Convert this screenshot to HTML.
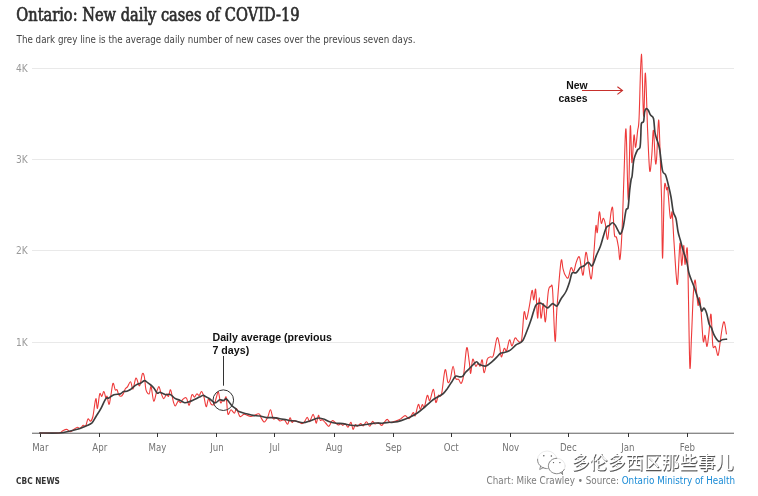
<!DOCTYPE html>
<html><head><meta charset="utf-8"><style>
html,body{margin:0;padding:0;background:#fff;}
body{width:758px;height:496px;position:relative;overflow:hidden;}
svg text{font-family:"Liberation Sans",sans-serif;}
.t{font-family:"DejaVu Serif","Liberation Serif",serif !important;font-stretch:condensed;font-size:17.8px;fill:#2e2e2e;stroke:#2e2e2e;stroke-width:0.65px;}
.s{font-family:"DejaVu Sans",sans-serif !important;font-stretch:condensed;font-size:10.15px;fill:#444;}
.yl{font-family:"DejaVu Sans",sans-serif !important;font-stretch:condensed;font-size:10.1px;fill:#9a9a9a;}
.xl{font-family:"DejaVu Sans",sans-serif !important;font-stretch:condensed;font-size:9.6px;fill:#747474;}
.ann{font-size:10.4px;font-weight:bold;fill:#111;}
.cbc{font-family:"DejaVu Sans",sans-serif !important;font-stretch:condensed;font-size:9.4px;font-weight:bold;fill:#333;}
.src{font-family:"DejaVu Sans",sans-serif !important;font-stretch:condensed;font-size:9.6px;fill:#7c7c7c;}
.wm{font-family:"Liberation Sans","Noto Sans CJK SC",sans-serif !important;font-size:17.7px;letter-spacing:0.3px;fill:#fff;stroke:none;}
</style></head><body>
<svg width="758" height="496" viewBox="0 0 758 496" style="position:absolute;left:0;top:0;will-change:transform">
<text transform="translate(16.3,20.8) scale(0.912,1)" class="t">Ontario: New daily cases of COVID-19</text>
<text transform="translate(16.6,43) scale(0.957,1)" class="s">The dark grey line is the average daily number of new cases over the previous seven days.</text>
<line x1="32" y1="68.5" x2="734" y2="68.5" stroke="#e9e9e9" stroke-width="1"/>
<text x="27.8" y="72.0" text-anchor="end" class="yl">4K</text>
<line x1="32" y1="159.5" x2="734" y2="159.5" stroke="#e9e9e9" stroke-width="1"/>
<text x="27.8" y="163.0" text-anchor="end" class="yl">3K</text>
<line x1="32" y1="250.5" x2="734" y2="250.5" stroke="#e9e9e9" stroke-width="1"/>
<text x="27.8" y="254.0" text-anchor="end" class="yl">2K</text>
<line x1="32" y1="342.5" x2="734" y2="342.5" stroke="#e9e9e9" stroke-width="1"/>
<text x="27.8" y="346.0" text-anchor="end" class="yl">1K</text>
<line x1="32" y1="432.5" x2="734" y2="432.5" stroke="#d2d2d2" stroke-width="1"/>
<line x1="32" y1="433.5" x2="734" y2="433.5" stroke="#8a8a8a" stroke-width="1"/>
<line x1="40.5" y1="433" x2="40.5" y2="437" stroke="#333" stroke-width="1"/>
<text x="40.3" y="450.8" text-anchor="middle" class="xl">Mar</text>
<line x1="99.5" y1="433" x2="99.5" y2="437" stroke="#333" stroke-width="1"/>
<text x="99.8" y="450.8" text-anchor="middle" class="xl">Apr</text>
<line x1="157.5" y1="433" x2="157.5" y2="437" stroke="#333" stroke-width="1"/>
<text x="157.4" y="450.8" text-anchor="middle" class="xl">May</text>
<line x1="216.5" y1="433" x2="216.5" y2="437" stroke="#333" stroke-width="1"/>
<text x="217.0" y="450.8" text-anchor="middle" class="xl">Jun</text>
<line x1="274.5" y1="433" x2="274.5" y2="437" stroke="#333" stroke-width="1"/>
<text x="274.6" y="450.8" text-anchor="middle" class="xl">Jul</text>
<line x1="334.5" y1="433" x2="334.5" y2="437" stroke="#333" stroke-width="1"/>
<text x="334.1" y="450.8" text-anchor="middle" class="xl">Aug</text>
<line x1="393.5" y1="433" x2="393.5" y2="437" stroke="#333" stroke-width="1"/>
<text x="393.6" y="450.8" text-anchor="middle" class="xl">Sep</text>
<line x1="451.5" y1="433" x2="451.5" y2="437" stroke="#333" stroke-width="1"/>
<text x="451.2" y="450.8" text-anchor="middle" class="xl">Oct</text>
<line x1="510.5" y1="433" x2="510.5" y2="437" stroke="#333" stroke-width="1"/>
<text x="510.7" y="450.8" text-anchor="middle" class="xl">Nov</text>
<line x1="568.5" y1="433" x2="568.5" y2="437" stroke="#333" stroke-width="1"/>
<text x="568.3" y="450.8" text-anchor="middle" class="xl">Dec</text>
<line x1="628.5" y1="433" x2="628.5" y2="437" stroke="#333" stroke-width="1"/>
<text x="627.9" y="450.8" text-anchor="middle" class="xl">Jan</text>
<line x1="687.5" y1="433" x2="687.5" y2="437" stroke="#333" stroke-width="1"/>
<text x="687.4" y="450.8" text-anchor="middle" class="xl">Feb</text>
<path d="M39.7,433.0 C42.9,433.0 55.2,433.4 59.0,433.0 C62.8,432.6 61.0,431.5 62.3,430.9 C63.6,430.3 65.7,429.2 67.0,429.4 C68.3,429.5 68.7,432.1 70.3,431.8 C71.9,431.5 75.2,427.9 76.8,427.4 C78.4,426.8 78.9,428.9 80.0,428.5 C81.1,428.1 82.3,425.7 83.2,425.3 C84.1,424.9 84.8,427.2 85.6,426.1 C86.4,425.0 87.2,419.7 88.0,418.9 C88.8,418.1 89.7,421.7 90.5,421.3 C91.3,420.9 92.0,420.3 92.9,416.5 C93.8,412.7 95.0,400.1 95.8,398.7 C96.5,397.3 96.8,409.2 97.4,408.4 C98.1,407.6 99.0,395.9 99.7,393.9 C100.4,391.9 101.1,396.7 101.8,396.3 C102.5,395.9 103.2,391.2 103.9,391.5 C104.6,391.8 105.3,397.1 105.8,397.9 C106.3,398.7 106.6,395.2 107.1,396.3 C107.6,397.4 108.4,404.3 109.0,404.4 C109.6,404.5 109.9,400.6 110.6,397.1 C111.3,393.6 112.2,384.6 113.0,383.4 C113.8,382.2 114.5,388.7 115.2,389.8 C115.9,390.9 116.5,389.0 117.1,389.8 C117.7,390.6 118.0,393.6 118.7,394.7 C119.4,395.8 120.3,396.4 121.1,396.3 C121.8,396.2 122.5,395.1 123.2,393.9 C123.9,392.7 124.5,390.2 125.2,389.0 C125.9,387.8 126.7,387.8 127.6,386.6 C128.5,385.4 129.7,381.4 130.6,381.8 C131.5,382.2 132.1,389.6 133.0,389.0 C133.9,388.4 134.9,378.5 136.0,378.0 C137.1,377.5 138.4,386.5 139.5,385.8 C140.6,385.1 141.6,375.2 142.4,373.7 C143.2,372.2 143.8,374.3 144.4,377.0 C145.0,379.7 145.2,387.0 146.0,389.8 C146.8,392.6 148.3,394.4 149.2,393.9 C150.0,393.4 150.3,385.4 151.1,386.6 C151.8,387.8 152.8,400.2 153.7,401.1 C154.6,402.1 155.6,394.7 156.5,392.3 C157.4,389.9 158.2,386.6 158.9,386.6 C159.6,386.6 160.0,390.3 160.8,392.3 C161.6,394.3 162.7,398.4 163.7,398.7 C164.7,399.0 165.8,394.3 166.6,393.9 C167.4,393.5 167.8,397.0 168.5,396.3 C169.2,395.6 169.8,388.9 170.6,389.8 C171.4,390.7 172.6,399.2 173.4,401.9 C174.2,404.6 174.5,406.1 175.3,406.0 C176.1,405.9 177.3,401.7 178.2,401.1 C179.1,400.6 179.8,403.0 180.6,402.7 C181.3,402.4 181.8,400.3 182.7,399.5 C183.6,398.7 185.2,396.9 186.3,397.9 C187.4,398.8 188.3,405.7 189.2,405.2 C190.1,404.7 191.0,396.0 191.9,394.7 C192.8,393.4 193.6,397.2 194.4,397.1 C195.2,397.0 196.0,394.2 196.8,393.9 C197.6,393.6 198.4,395.9 199.2,395.5 C200.0,395.1 200.8,391.2 201.6,391.5 C202.4,391.8 203.2,394.6 204.0,397.1 C204.8,399.7 205.4,406.5 206.2,406.8 C206.9,407.1 207.7,399.5 208.5,399.0 C209.3,398.5 210.1,403.1 211.0,404.0 C211.9,404.9 213.3,405.5 214.2,404.5 C215.1,403.5 215.5,400.1 216.2,398.0 C216.9,395.9 217.7,391.2 218.4,392.0 C219.1,392.8 219.8,401.2 220.5,402.6 C221.2,404.0 221.9,400.8 222.5,400.5 C223.1,400.2 223.7,401.5 224.3,401.0 C224.9,400.5 225.6,395.1 226.2,397.3 C226.8,399.5 227.1,411.9 227.9,414.0 C228.7,416.1 229.9,409.9 231.0,409.8 C232.1,409.7 233.5,413.3 234.4,413.1 C235.3,412.9 235.7,408.1 236.6,408.7 C237.5,409.3 238.7,415.6 240.0,416.5 C241.3,417.4 242.5,414.3 244.3,414.3 C246.1,414.3 248.6,416.6 251.0,416.5 C253.4,416.4 257.1,413.6 258.8,413.8 C260.5,414.0 260.1,416.2 261.0,417.6 C261.9,419.0 263.2,422.0 264.3,422.0 C265.4,422.0 266.6,419.6 267.6,417.6 C268.6,415.6 269.6,409.6 270.5,409.8 C271.4,410.0 272.2,417.4 273.2,418.7 C274.2,420.0 275.4,417.2 276.5,417.6 C277.6,418.0 278.5,420.5 279.8,420.9 C281.1,421.3 283.0,419.2 284.3,419.8 C285.6,420.4 286.7,424.6 287.6,424.2 C288.6,423.8 289.3,418.0 290.0,417.7 C290.7,417.4 291.3,421.8 292.0,422.3 C292.7,422.8 293.0,420.7 294.0,420.6 C295.0,420.5 296.6,421.2 297.9,421.7 C299.2,422.2 300.8,423.6 301.9,423.6 C303.0,423.6 303.6,422.7 304.5,421.7 C305.4,420.7 306.4,417.4 307.2,417.4 C308.0,417.4 308.9,421.5 309.5,421.7 C310.1,421.9 310.5,419.6 311.1,418.4 C311.7,417.2 312.5,414.4 313.1,414.4 C313.7,414.4 314.2,417.0 314.8,418.4 C315.4,419.8 315.8,423.5 316.4,423.0 C317.0,422.5 317.8,415.8 318.4,415.3 C319.0,414.9 319.6,419.6 320.3,420.3 C321.0,421.0 321.4,419.2 322.3,419.7 C323.2,420.1 324.5,421.9 325.6,423.0 C326.7,424.1 327.8,426.7 328.9,426.3 C330.0,425.9 331.2,421.3 332.2,420.6 C333.2,419.9 333.9,421.6 334.9,422.3 C335.9,423.0 337.2,424.8 338.2,425.0 C339.2,425.2 340.0,423.5 340.8,423.6 C341.6,423.7 342.0,425.3 342.8,425.4 C343.6,425.5 344.5,423.7 345.4,424.0 C346.3,424.3 347.1,427.5 348.0,427.2 C348.9,426.9 350.2,421.9 351.0,422.3 C351.8,422.7 352.3,428.9 353.0,429.3 C353.7,429.7 354.6,425.1 355.3,424.6 C356.0,424.1 356.4,426.5 357.3,426.3 C358.2,426.1 359.6,423.7 360.6,423.6 C361.6,423.5 362.2,426.2 363.2,425.9 C364.2,425.6 365.4,421.6 366.5,421.7 C367.6,421.8 368.8,426.4 369.8,426.3 C370.8,426.2 371.6,421.8 372.5,421.4 C373.4,421.0 374.1,423.8 375.1,424.0 C376.1,424.2 377.3,422.5 378.4,422.7 C379.5,422.9 380.7,425.5 381.7,425.4 C382.7,425.3 383.4,423.3 384.3,422.3 C385.2,421.3 386.2,419.4 387.2,419.4 C388.1,419.4 389.0,422.1 390.0,422.5 C391.0,422.9 391.9,422.0 393.1,421.7 C394.3,421.4 395.8,421.1 397.1,420.6 C398.4,420.1 399.8,419.4 401.1,418.6 C402.5,417.8 403.9,415.6 405.2,415.6 C406.5,415.6 407.9,419.1 409.2,418.6 C410.5,418.1 412.2,413.1 413.2,412.6 C414.2,412.1 414.3,417.0 415.2,415.6 C416.1,414.2 417.4,405.5 418.3,404.5 C419.2,403.5 419.6,409.6 420.3,409.6 C421.0,409.6 421.6,404.9 422.3,404.5 C423.0,404.1 423.5,409.0 424.3,407.5 C425.1,406.0 426.4,396.6 427.3,395.4 C428.2,394.2 428.8,401.5 429.8,400.5 C430.8,399.5 432.4,389.1 433.4,389.4 C434.4,389.7 435.0,401.5 435.8,402.5 C436.6,403.5 437.4,396.8 438.4,395.4 C439.3,394.0 440.4,398.7 441.5,394.4 C442.6,390.1 444.0,371.8 445.1,369.8 C446.2,367.8 447.0,380.9 447.9,382.3 C448.8,383.7 449.6,381.0 450.5,378.3 C451.4,375.6 452.2,366.2 453.1,366.2 C454.0,366.2 454.7,376.1 455.6,378.3 C456.5,380.5 457.7,378.5 458.6,379.3 C459.5,380.1 460.4,384.0 461.2,383.3 C462.0,382.6 462.7,381.2 463.6,375.3 C464.5,369.4 465.8,349.9 466.7,347.7 C467.6,345.5 468.6,357.9 469.3,362.2 C470.0,366.5 470.1,373.8 470.7,373.3 C471.3,372.8 471.9,360.4 472.7,359.2 C473.5,358.0 474.8,365.5 475.7,366.2 C476.6,366.9 477.4,363.2 478.1,363.2 C478.9,363.2 479.5,366.8 480.2,366.2 C480.9,365.6 481.5,358.7 482.2,359.8 C482.9,360.9 483.3,372.9 484.2,372.8 C485.1,372.7 486.3,362.0 487.3,359.3 C488.3,356.6 489.2,357.5 490.2,356.9 C491.2,356.3 492.2,358.8 493.3,355.6 C494.4,352.5 496.0,339.8 497.0,338.0 C498.0,336.2 498.7,341.6 499.4,344.7 C500.1,347.8 500.5,356.3 501.3,356.9 C502.1,357.5 503.3,349.4 504.2,348.4 C505.1,347.4 505.7,352.2 506.6,350.8 C507.5,349.4 508.6,340.7 509.5,339.9 C510.4,339.1 511.1,346.3 512.0,346.0 C512.9,345.7 514.1,338.8 515.1,338.0 C516.1,337.2 517.2,340.8 518.3,341.1 C519.4,341.4 520.6,344.7 521.6,339.9 C522.6,335.1 523.3,315.5 524.1,312.1 C524.9,308.7 525.6,320.5 526.5,319.3 C527.4,318.1 528.7,309.6 529.6,304.8 C530.5,300.0 531.4,291.1 532.1,290.3 C532.8,289.5 533.2,300.1 533.8,300.0 C534.4,299.9 535.1,286.5 535.7,289.5 C536.3,292.5 537.0,316.8 537.6,318.1 C538.2,319.4 538.7,297.5 539.3,297.5 C539.9,297.5 540.3,317.1 541.0,318.1 C541.7,319.1 542.7,303.0 543.4,303.6 C544.1,304.2 544.6,323.7 545.4,321.7 C546.2,319.7 547.4,297.4 548.3,291.5 C549.2,285.6 550.0,286.8 550.7,286.6 C551.4,286.4 551.9,281.2 552.6,290.3 C553.3,299.4 554.4,338.3 555.1,341.1 C555.8,343.9 556.0,320.4 557.0,307.2 C558.0,294.0 560.0,268.1 561.0,261.7 C562.0,255.3 562.3,266.5 563.0,268.7 C563.7,270.9 564.1,273.3 565.0,274.8 C565.9,276.3 567.1,279.0 568.1,277.8 C569.1,276.6 570.2,268.7 571.1,267.7 C572.0,266.7 572.9,272.5 573.7,271.7 C574.5,270.9 575.2,265.2 576.1,262.7 C577.0,260.2 578.4,255.9 579.2,256.6 C580.1,257.3 580.5,263.7 581.2,266.7 C581.9,269.7 582.4,277.2 583.2,274.8 C584.0,272.4 585.0,254.6 585.8,252.6 C586.6,250.6 587.3,258.3 588.2,262.7 C589.1,267.1 590.3,280.5 591.3,278.8 C592.2,277.1 593.1,261.4 593.9,252.6 C594.7,243.8 595.3,229.4 595.9,226.0 C596.5,222.6 596.7,234.8 597.3,232.4 C597.9,230.1 598.6,213.4 599.3,211.9 C600.0,210.4 600.6,222.2 601.3,223.3 C602.0,224.4 602.6,218.1 603.3,218.3 C604.0,218.5 604.7,220.9 605.4,224.4 C606.1,227.9 606.7,239.3 607.4,239.5 C608.1,239.7 608.7,230.3 609.4,225.4 C610.1,220.5 610.8,212.9 611.4,210.2 C612.0,207.5 612.3,205.2 612.8,209.2 C613.3,213.2 613.8,229.7 614.4,234.4 C615.0,239.1 615.8,235.3 616.5,237.5 C617.2,239.7 617.9,244.0 618.5,247.5 C619.1,251.0 619.4,263.1 620.1,258.6 C620.8,254.1 621.9,234.2 622.5,220.3 C623.1,206.4 623.4,190.2 624.0,175.0 C624.6,159.8 625.3,125.0 626.0,129.2 C626.7,133.4 627.6,200.5 628.3,200.0 C629.0,199.5 629.7,132.5 630.3,126.3 C630.9,120.1 631.3,161.1 631.9,162.6 C632.5,164.1 633.4,137.8 634.0,135.2 C634.6,132.6 635.0,148.0 635.6,147.3 C636.2,146.6 637.0,136.1 637.6,131.1 C638.2,126.1 638.5,130.4 639.1,117.6 C639.7,104.8 640.6,54.4 641.4,54.1 C642.1,53.8 642.9,112.8 643.6,116.0 C644.3,119.2 644.7,70.8 645.4,73.1 C646.1,75.4 646.9,113.8 647.6,130.0 C648.3,146.2 649.0,166.4 649.7,170.6 C650.4,174.8 651.2,162.0 651.8,155.3 C652.4,148.6 652.8,129.4 653.4,130.3 C654.0,131.2 654.8,156.3 655.3,161.0 C655.8,165.7 656.0,165.3 656.6,158.5 C657.2,151.7 658.0,120.5 658.6,120.0 C659.2,119.5 659.7,142.0 660.2,155.3 C660.7,168.6 661.2,182.9 661.6,200.0 C662.0,217.1 662.1,260.0 662.6,258.0 C663.1,256.0 663.7,199.2 664.4,187.8 C665.1,176.5 666.0,189.7 666.6,189.9 C667.2,190.1 667.1,184.6 667.7,188.9 C668.3,193.2 669.4,210.7 670.0,215.5 C670.6,220.3 670.7,218.1 671.1,217.7 C671.5,217.2 671.7,208.8 672.2,212.8 C672.7,216.9 673.3,231.6 674.0,242.0 C674.7,252.4 675.6,268.6 676.2,275.3 C676.8,282.0 677.1,287.8 677.7,282.4 C678.3,277.0 679.3,246.0 680.0,243.2 C680.7,240.4 681.1,265.0 681.7,265.4 C682.3,265.8 683.2,245.6 683.7,245.4 C684.2,245.2 684.4,263.8 685.0,264.3 C685.6,264.9 686.7,242.8 687.3,248.7 C687.9,254.6 688.1,280.2 688.5,300.0 C688.9,319.8 689.4,361.5 689.9,367.6 C690.4,373.7 690.9,348.7 691.5,336.5 C692.1,324.3 692.7,303.8 693.3,294.4 C693.9,285.0 694.5,280.4 695.0,280.0 C695.5,279.6 696.1,287.9 696.6,292.2 C697.1,296.4 697.6,304.6 698.1,305.5 C698.6,306.4 699.0,297.0 699.5,297.7 C700.0,298.4 700.4,302.7 701.0,309.9 C701.6,317.1 702.5,336.8 703.2,341.0 C703.9,345.2 704.4,334.5 705.0,335.4 C705.6,336.3 706.4,346.7 707.0,346.5 C707.6,346.3 708.1,339.7 708.8,334.3 C709.5,328.9 710.3,312.5 711.0,314.3 C711.7,316.1 712.1,340.0 712.8,345.4 C713.5,350.8 714.5,344.8 715.4,346.5 C716.3,348.2 717.3,356.3 718.1,355.4 C718.9,354.5 719.6,345.8 720.3,341.0 C721.0,336.2 721.8,329.6 722.5,326.5 C723.2,323.4 723.6,320.8 724.3,322.1 C725.0,323.4 726.1,332.3 726.5,334.3" fill="none" stroke="#ee3a3a" stroke-width="1.1" stroke-linejoin="round"/>
<path d="M39.7,433.0 C42.9,433.0 53.9,433.3 59.0,433.0 C64.1,432.7 66.8,431.8 70.3,431.0 C73.8,430.2 77.3,429.4 80.0,428.5 C82.7,427.6 84.5,426.7 86.5,425.8 C88.5,424.9 90.4,424.4 92.0,422.9 C93.6,421.3 94.5,418.9 96.0,416.5 C97.5,414.1 99.4,411.4 101.0,408.4 C102.6,405.4 104.5,400.4 105.8,398.7 C107.1,396.9 107.7,398.6 109.0,397.9 C110.3,397.2 112.0,395.4 113.9,394.7 C115.8,394.0 118.7,394.4 120.3,393.9 C121.9,393.4 122.4,391.9 123.5,391.5 C124.6,391.1 125.7,391.5 126.8,391.2 C127.9,390.9 128.7,390.7 130.0,389.8 C131.3,388.9 133.4,386.8 134.7,385.8 C136.0,384.8 137.0,384.3 137.9,383.9 C138.8,383.5 139.2,383.9 140.3,383.4 C141.4,382.8 143.2,380.7 144.4,380.6 C145.6,380.5 146.5,381.9 147.6,382.6 C148.7,383.3 149.7,384.1 150.8,385.0 C151.9,385.9 152.9,386.8 154.0,388.2 C155.1,389.6 156.4,392.4 157.3,393.1 C158.2,393.8 158.8,392.2 159.7,392.3 C160.6,392.4 161.8,393.1 162.9,393.5 C164.0,393.9 164.9,394.6 166.1,394.7 C167.3,394.8 168.7,393.8 170.2,394.4 C171.7,395.0 173.4,397.4 175.0,398.4 C176.6,399.4 178.2,399.6 179.8,400.3 C181.4,401.0 183.1,402.5 184.7,402.7 C186.3,402.9 187.9,402.1 189.5,401.6 C191.1,401.1 192.8,400.2 194.4,399.5 C196.0,398.8 197.7,397.8 199.2,397.1 C200.7,396.4 202.2,395.5 203.2,395.3 C204.2,395.1 204.0,395.7 205.0,396.2 C206.0,396.7 207.7,397.5 209.2,398.5 C210.7,399.5 212.6,401.8 213.8,402.4 C215.0,403.0 215.3,402.8 216.3,402.4 C217.3,402.0 218.6,400.1 219.8,399.8 C221.0,399.5 222.2,400.6 223.3,400.5 C224.4,400.4 225.2,398.7 226.2,398.9 C227.1,399.1 228.1,400.8 229.0,401.9 C229.9,403.0 230.8,404.5 231.8,405.6 C232.9,406.7 234.1,407.4 235.3,408.4 C236.5,409.4 237.0,410.7 238.9,411.6 C240.8,412.5 244.2,413.2 246.6,413.8 C249.0,414.4 251.0,415.0 253.2,415.4 C255.4,415.8 257.7,415.6 259.9,416.0 C262.1,416.4 264.3,417.3 266.5,417.6 C268.7,417.9 271.0,417.4 273.2,417.6 C275.4,417.8 277.6,418.3 279.8,418.7 C282.0,419.1 284.8,419.5 286.5,419.8 C288.2,420.1 288.5,420.4 290.0,420.6 C291.5,420.8 293.1,420.6 295.3,421.0 C297.5,421.4 300.8,422.7 303.2,422.7 C305.6,422.7 307.8,421.6 309.8,421.0 C311.8,420.4 313.6,419.5 315.1,419.0 C316.6,418.5 317.5,417.9 319.0,418.0 C320.5,418.1 322.5,418.7 324.3,419.3 C326.1,419.9 327.6,421.1 329.6,421.7 C331.6,422.3 334.0,422.9 336.2,423.2 C338.4,423.5 340.6,423.3 342.8,423.6 C345.0,423.9 347.2,424.7 349.4,425.0 C351.6,425.3 353.8,425.6 356.0,425.6 C358.2,425.6 360.4,425.3 362.6,425.0 C364.8,424.7 367.0,424.3 369.2,424.0 C371.4,423.7 373.6,423.1 375.8,423.0 C378.0,422.9 379.9,423.3 382.3,423.2 C384.7,423.1 388.2,422.4 390.0,422.3 C391.8,422.2 391.2,422.6 393.1,422.3 C395.0,422.0 398.4,421.4 401.1,420.6 C403.8,419.8 406.5,418.9 409.2,417.6 C411.9,416.3 414.6,414.9 417.3,413.0 C420.0,411.1 422.6,408.8 425.3,406.5 C428.0,404.2 431.0,401.2 433.4,399.5 C435.8,397.8 437.7,397.0 439.4,396.0 C441.1,395.0 442.1,394.7 443.5,393.4 C444.9,392.1 446.2,390.2 447.5,388.4 C448.8,386.5 450.1,384.3 451.5,382.3 C452.9,380.3 454.2,377.2 455.6,376.3 C457.0,375.4 458.4,376.9 459.6,376.9 C460.8,376.9 461.6,377.1 462.6,376.3 C463.6,375.5 464.4,373.7 465.6,372.3 C466.8,370.9 468.4,369.6 469.7,368.2 C471.0,366.8 472.5,365.3 473.7,364.2 C474.9,363.1 475.7,361.7 476.7,361.8 C477.7,361.9 478.2,363.9 479.8,364.6 C481.4,365.3 483.9,366.5 486.0,366.0 C488.1,365.5 490.3,363.2 492.1,361.7 C493.9,360.2 495.6,358.3 497.0,356.9 C498.4,355.5 499.4,353.9 500.6,353.2 C501.8,352.5 502.6,353.0 504.2,352.5 C505.8,352.0 508.3,351.4 510.3,350.1 C512.3,348.8 514.3,346.2 516.3,344.7 C518.3,343.2 520.6,343.5 522.4,341.1 C524.2,338.7 525.8,333.6 527.2,330.2 C528.6,326.8 529.7,323.7 530.8,320.5 C531.9,317.3 532.9,313.4 533.8,310.8 C534.7,308.2 535.1,306.1 536.2,304.8 C537.3,303.5 539.2,303.0 540.5,303.1 C541.8,303.2 543.0,304.7 544.2,305.5 C545.4,306.3 546.4,308.2 547.8,307.9 C549.2,307.6 551.1,303.9 552.6,303.6 C554.1,303.3 555.6,306.8 557.0,306.0 C558.4,305.2 559.6,301.1 561.1,298.7 C562.6,296.3 564.6,294.3 566.0,291.5 C567.4,288.7 568.6,284.9 569.6,281.8 C570.6,278.7 571.0,274.5 572.1,273.0 C573.2,271.5 574.8,273.6 576.1,272.7 C577.5,271.8 578.9,268.9 580.2,267.7 C581.6,266.5 582.9,266.6 584.2,265.7 C585.5,264.8 586.9,262.3 588.2,262.3 C589.6,262.3 590.9,266.8 592.3,265.7 C593.6,264.6 595.0,258.8 596.3,255.6 C597.6,252.4 599.1,249.7 600.3,246.5 C601.5,243.3 602.3,239.7 603.3,236.5 C604.3,233.3 605.4,229.2 606.4,227.4 C607.4,225.6 608.4,226.2 609.4,225.4 C610.4,224.6 611.4,222.7 612.4,222.7 C613.4,222.7 614.4,223.9 615.4,225.4 C616.4,226.9 617.6,230.0 618.5,231.4 C619.4,232.8 619.7,234.7 620.5,234.0 C621.3,233.3 622.3,230.9 623.2,227.0 C624.1,223.1 625.2,213.6 626.0,210.3 C626.8,207.0 627.5,210.7 628.1,207.3 C628.7,204.0 629.2,194.8 629.7,190.2 C630.2,185.6 630.7,181.9 631.1,179.5 C631.5,177.1 631.7,178.9 632.1,176.0 C632.5,173.1 633.0,165.2 633.5,161.8 C634.0,158.4 634.5,157.3 635.2,155.3 C635.9,153.3 636.8,151.0 637.6,149.7 C638.4,148.4 639.5,149.6 640.0,147.3 C640.5,145.0 640.6,140.0 640.8,136.0 C641.0,132.0 640.9,125.9 641.4,123.5 C641.9,121.1 643.1,123.4 643.6,121.5 C644.1,119.6 644.2,114.2 644.6,112.0 C645.0,109.8 645.7,108.8 646.3,108.5 C646.9,108.2 647.6,109.2 648.3,110.3 C649.0,111.4 649.5,113.5 650.4,114.9 C651.3,116.3 652.8,115.7 653.5,118.5 C654.2,121.3 654.4,128.7 654.9,132.0 C655.4,135.3 655.7,135.7 656.5,138.4 C657.3,141.2 658.5,143.1 659.5,148.5 C660.5,153.9 661.5,166.2 662.5,170.6 C663.5,175.0 664.6,172.4 665.6,175.0 C666.6,177.6 667.7,182.3 668.6,186.0 C669.5,189.7 670.2,192.7 671.0,197.0 C671.8,201.3 672.5,208.4 673.3,212.0 C674.1,215.6 675.2,215.3 676.0,218.6 C676.8,221.8 677.3,227.9 678.0,231.5 C678.7,235.1 679.4,236.8 680.3,240.0 C681.2,243.2 682.2,247.5 683.3,251.0 C684.3,254.5 685.7,257.3 686.6,260.9 C687.5,264.5 688.1,269.5 688.8,272.5 C689.5,275.5 690.1,276.5 691.0,279.0 C691.9,281.5 693.4,284.8 694.4,287.7 C695.4,290.6 696.4,293.8 697.3,296.6 C698.2,299.4 699.2,302.0 699.9,304.4 C700.6,306.8 701.0,310.4 701.7,311.0 C702.4,311.6 703.1,307.7 703.9,308.1 C704.7,308.5 705.7,310.5 706.6,313.2 C707.5,315.9 708.4,321.9 709.2,324.3 C710.0,326.7 710.5,325.8 711.4,327.6 C712.2,329.5 713.1,333.1 714.3,335.4 C715.5,337.7 717.5,340.7 718.8,341.4 C720.1,342.1 720.8,340.2 722.1,339.8 C723.4,339.4 725.8,339.3 726.5,339.2" fill="none" stroke="#3e3e3e" stroke-width="1.65" stroke-linejoin="round" stroke-linecap="round"/>
<circle cx="223.3" cy="400.2" r="10.3" fill="none" stroke="#333" stroke-width="1"/>
<line x1="223.5" y1="356" x2="223.5" y2="385.7" stroke="#333" stroke-width="1"/>
<text x="212.5" y="340.8" class="ann" style="font-size:10.65px">Daily average (previous</text>
<text x="212.5" y="353.6" class="ann" style="font-size:10.65px">7 days)</text>
<text x="587.5" y="88.8" text-anchor="end" class="ann">New</text>
<text x="587.5" y="101.8" text-anchor="end" class="ann">cases</text>
<line x1="582" y1="90.5" x2="622" y2="90.5" stroke="#c7302c" stroke-width="1.1"/>
<polyline points="617.4,86.7 622.5,90.5 617.4,94.4" fill="none" stroke="#c7302c" stroke-width="1.1"/>
<text transform="translate(16.1,483.9) scale(0.876,1)" class="cbc">CBC NEWS</text>
<text transform="translate(735.1,483.7) scale(1.019,1)" text-anchor="end" class="src">Chart: Mike Crawley &#8226; Source: <tspan fill="#1a8bd6">Ontario Ministry of Health</tspan></text>
<g fill="none" stroke-linecap="round"><ellipse cx="547.2" cy="459.8" rx="9.7" ry="8.8" stroke="#e2e2e2" stroke-width="0.7"/><path d="M537.6,459.2 A9.7,8.8 0 0 0 547.2,468.6" stroke="#666" stroke-width="0.75" stroke-dasharray="1.4,1"/><path d="M540.6,466 L539.7,469.5 L543.5,467.6" stroke="#666" stroke-width="0.7"/><ellipse cx="556.8" cy="466" rx="8.4" ry="7.7" fill="#fff" stroke="#e0e0e0" stroke-width="0.7"/><path d="M556.8,458.3 A8.4,7.7 0 0 0 548.4,466 A8.4,7.7 0 0 0 556.8,473.7 A8.4,7.7 0 0 0 564.2,469.5" stroke="#666" stroke-width="0.75" stroke-dasharray="1.6,0.9"/><path d="M561,472.8 L562.6,474.6 L562.3,471.8" stroke="#555" stroke-width="0.7"/><g fill="#555" stroke="none"><circle cx="543.8" cy="455.7" r="0.75"/><circle cx="551.4" cy="455.9" r="0.75"/><circle cx="553.5" cy="462.6" r="0.7"/><circle cx="559.9" cy="462.6" r="0.7"/></g></g>
<text x="572.6" y="469.8" class="wm" style="fill:#555;stroke:#555;stroke-width:0.25px">多伦多西区那些事儿</text>
<text x="571.8" y="469" class="wm">多伦多西区那些事儿</text>
</svg>
</body></html>
